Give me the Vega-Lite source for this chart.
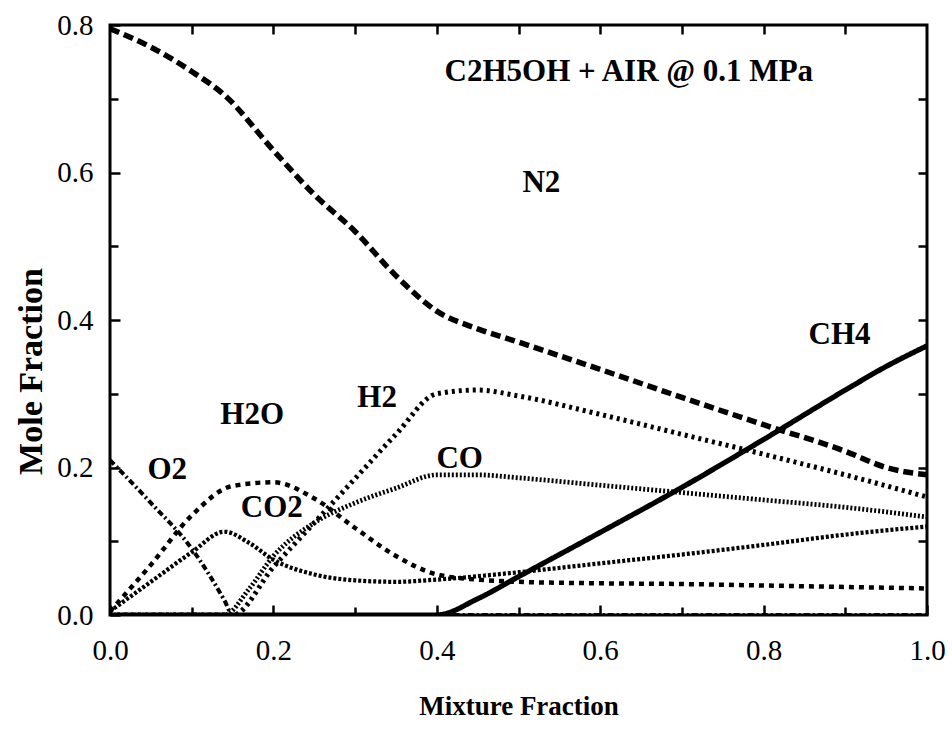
{
  "$schema": "https://vega.github.io/schema/vega-lite/v6.json",
  "width": 817,
  "height": 590,
  "autosize": {"type": "none"},
  "padding": {"left": 110, "top": 25, "right": 25, "bottom": 124},
  "background": "white",
  "config": {
    "view": {"stroke": "black", "strokeWidth": 3},
    "font": "Liberation Serif",
    "axis": {"grid": false, "domain": false, "tickColor": "black", "tickWidth": 2.5, "labelColor": "black", "titleColor": "black"}
  },
  "datasets": {
    "curves": [
      {"s": "N2", "x": 0.0, "y": 0.795}, {"s": "N2", "x": 0.05, "y": 0.77}, {"s": "N2", "x": 0.1, "y": 0.737}, {"s": "N2", "x": 0.14, "y": 0.705},
      {"s": "N2", "x": 0.2, "y": 0.63}, {"s": "N2", "x": 0.25, "y": 0.57}, {"s": "N2", "x": 0.3, "y": 0.52}, {"s": "N2", "x": 0.35, "y": 0.46},
      {"s": "N2", "x": 0.4, "y": 0.412}, {"s": "N2", "x": 0.45, "y": 0.388}, {"s": "N2", "x": 0.5, "y": 0.37}, {"s": "N2", "x": 0.6, "y": 0.333},
      {"s": "N2", "x": 0.7, "y": 0.295}, {"s": "N2", "x": 0.8, "y": 0.258}, {"s": "N2", "x": 0.9, "y": 0.222}, {"s": "N2", "x": 0.95, "y": 0.2}, {"s": "N2", "x": 1.0, "y": 0.19},

      {"s": "CH4", "x": 0.0, "y": 0.0}, {"s": "CH4", "x": 0.4, "y": 0.0}, {"s": "CH4", "x": 0.45, "y": 0.022}, {"s": "CH4", "x": 0.5, "y": 0.052},
      {"s": "CH4", "x": 0.6, "y": 0.112}, {"s": "CH4", "x": 0.7, "y": 0.173}, {"s": "CH4", "x": 0.8, "y": 0.238}, {"s": "CH4", "x": 0.9, "y": 0.305},
      {"s": "CH4", "x": 0.95, "y": 0.337}, {"s": "CH4", "x": 1.0, "y": 0.365},

      {"s": "H2", "x": 0.0, "y": 0.0}, {"s": "H2", "x": 0.15, "y": 0.0}, {"s": "H2", "x": 0.2, "y": 0.065}, {"s": "H2", "x": 0.25, "y": 0.125},
      {"s": "H2", "x": 0.3, "y": 0.185}, {"s": "H2", "x": 0.35, "y": 0.245}, {"s": "H2", "x": 0.4, "y": 0.3}, {"s": "H2", "x": 0.45, "y": 0.305},
      {"s": "H2", "x": 0.5, "y": 0.297}, {"s": "H2", "x": 0.6, "y": 0.272}, {"s": "H2", "x": 0.7, "y": 0.245}, {"s": "H2", "x": 0.8, "y": 0.218},
      {"s": "H2", "x": 0.9, "y": 0.19}, {"s": "H2", "x": 1.0, "y": 0.16},

      {"s": "CO", "x": 0.0, "y": 0.0}, {"s": "CO", "x": 0.14, "y": 0.0}, {"s": "CO", "x": 0.17, "y": 0.035}, {"s": "CO", "x": 0.2, "y": 0.08},
      {"s": "CO", "x": 0.25, "y": 0.125}, {"s": "CO", "x": 0.3, "y": 0.152}, {"s": "CO", "x": 0.35, "y": 0.172}, {"s": "CO", "x": 0.4, "y": 0.19},
      {"s": "CO", "x": 0.45, "y": 0.19}, {"s": "CO", "x": 0.5, "y": 0.186}, {"s": "CO", "x": 0.6, "y": 0.176}, {"s": "CO", "x": 0.7, "y": 0.166},
      {"s": "CO", "x": 0.8, "y": 0.156}, {"s": "CO", "x": 0.9, "y": 0.146}, {"s": "CO", "x": 1.0, "y": 0.133},

      {"s": "H2O", "x": 0.0, "y": 0.005}, {"s": "H2O", "x": 0.05, "y": 0.068}, {"s": "H2O", "x": 0.1, "y": 0.135}, {"s": "H2O", "x": 0.15, "y": 0.175},
      {"s": "H2O", "x": 0.2, "y": 0.18}, {"s": "H2O", "x": 0.25, "y": 0.158}, {"s": "H2O", "x": 0.3, "y": 0.118}, {"s": "H2O", "x": 0.35, "y": 0.08},
      {"s": "H2O", "x": 0.4, "y": 0.055}, {"s": "H2O", "x": 0.45, "y": 0.048}, {"s": "H2O", "x": 0.5, "y": 0.045}, {"s": "H2O", "x": 0.6, "y": 0.043},
      {"s": "H2O", "x": 0.7, "y": 0.042}, {"s": "H2O", "x": 0.8, "y": 0.04}, {"s": "H2O", "x": 0.9, "y": 0.038}, {"s": "H2O", "x": 1.0, "y": 0.036},

      {"s": "CO2", "x": 0.0, "y": 0.005}, {"s": "CO2", "x": 0.05, "y": 0.045}, {"s": "CO2", "x": 0.1, "y": 0.085}, {"s": "CO2", "x": 0.14, "y": 0.113},
      {"s": "CO2", "x": 0.17, "y": 0.098}, {"s": "CO2", "x": 0.2, "y": 0.075}, {"s": "CO2", "x": 0.25, "y": 0.055}, {"s": "CO2", "x": 0.3, "y": 0.047},
      {"s": "CO2", "x": 0.35, "y": 0.045}, {"s": "CO2", "x": 0.4, "y": 0.048}, {"s": "CO2", "x": 0.5, "y": 0.058}, {"s": "CO2", "x": 0.6, "y": 0.07},
      {"s": "CO2", "x": 0.7, "y": 0.082}, {"s": "CO2", "x": 0.8, "y": 0.095}, {"s": "CO2", "x": 0.9, "y": 0.109}, {"s": "CO2", "x": 1.0, "y": 0.12},

      {"s": "O2", "x": 0.0, "y": 0.21}, {"s": "O2", "x": 0.05, "y": 0.152}, {"s": "O2", "x": 0.1, "y": 0.09}, {"s": "O2", "x": 0.14, "y": 0.02},
      {"s": "O2", "x": 0.15, "y": 0.0}, {"s": "O2", "x": 1.0, "y": 0.0}
    ],
    "labels": [
      {"t": "C2H5OH + AIR @ 0.1 MPa", "x": 0.635, "y": 0.736},
      {"t": "N2", "x": 0.528, "y": 0.586},
      {"t": "CH4", "x": 0.893, "y": 0.38},
      {"t": "H2", "x": 0.327, "y": 0.294},
      {"t": "H2O", "x": 0.174, "y": 0.271},
      {"t": "CO", "x": 0.428, "y": 0.212},
      {"t": "O2", "x": 0.07, "y": 0.197},
      {"t": "CO2", "x": 0.198, "y": 0.145}
    ]
  },
  "resolve": {"axis": {"x": "independent", "y": "independent"}},
  "layer": [
    {
      "data": {"name": "curves"},
      "mark": {"type": "line", "color": "black", "strokeCap": "butt", "interpolate": "monotone", "clip": true},
      "encoding": {
        "x": {"field": "x", "type": "quantitative", "scale": {"domain": [0, 1], "nice": false},
          "axis": {"orient": "bottom", "values": [0, 0.2, 0.4, 0.6, 0.8, 1.0], "format": ".1f", "tickSize": -10, "labelPadding": 31, "labelFontSize": 29, "labelFlush": false,
            "title": "Mixture Fraction", "titleFontSize": 27, "titleFontWeight": "bold", "titlePadding": 28}},
        "y": {"field": "y", "type": "quantitative", "scale": {"domain": [0, 0.8], "nice": false},
          "axis": {"orient": "left", "values": [0, 0.2, 0.4, 0.6, 0.8], "format": ".1f", "tickSize": -10, "labelPadding": 27, "labelFontSize": 29, "labelFlush": false,
            "title": "Mole  Fraction", "titleFontSize": 34, "titleFontWeight": "bold", "titlePadding": 8, "titleY": 346}},
        "detail": {"field": "s"},
        "strokeDash": {"field": "s", "type": "nominal", "legend": null,
          "scale": {"domain": ["N2", "CH4", "H2", "CO", "H2O", "CO2", "O2"],
            "range": [[10, 5], [1, 0], [3, 4], [2, 2], [5, 5], [3, 2], [6, 3, 2, 3]]}},
        "strokeWidth": {"field": "s", "type": "nominal", "legend": null,
          "scale": {"domain": ["N2", "CH4", "H2", "CO", "H2O", "CO2", "O2"],
            "range": [5.5, 4, 1.3, 3, 5.5, 4.5, 1.8]}}
      }
    },
    {
      "data": {"name": "labels"},
      "mark": {"type": "text", "font": "Liberation Serif", "fontWeight": "bold", "fontSize": 31, "color": "black"},
      "encoding": {
        "x": {"field": "x", "type": "quantitative", "axis": {"orient": "top", "values": [0.1, 0.2, 0.3, 0.4, 0.5, 0.6, 0.7, 0.8, 0.9], "tickSize": -9, "labels": false, "title": null}},
        "y": {"field": "y", "type": "quantitative", "axis": {"orient": "right", "values": [0.1, 0.2, 0.3, 0.4, 0.5, 0.6, 0.7], "tickSize": -9, "labels": false, "title": null}},
        "text": {"field": "t"}
      }
    },
    {
      "data": {"name": "labels"},
      "mark": {"type": "point", "opacity": 0},
      "encoding": {
        "x": {"field": "x", "type": "quantitative", "axis": {"orient": "bottom", "values": [0.1, 0.3, 0.5, 0.7, 0.9], "tickSize": -8, "labels": false, "title": null}},
        "y": {"field": "y", "type": "quantitative", "axis": {"orient": "left", "values": [0.1, 0.3, 0.5, 0.7], "tickSize": -8, "labels": false, "title": null}}
      }
    }
  ]
}
